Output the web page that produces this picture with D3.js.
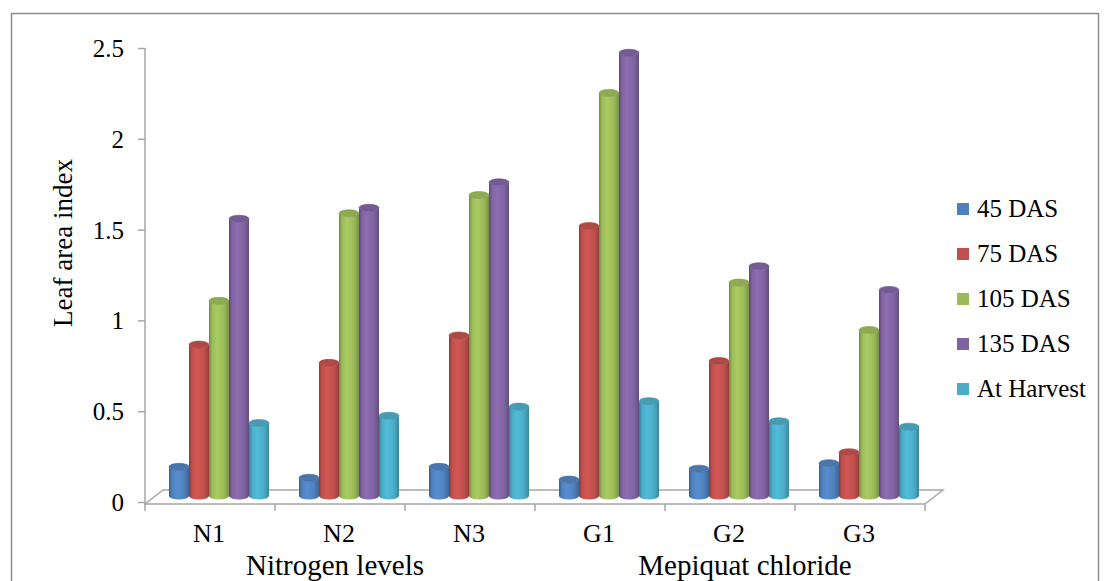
<!DOCTYPE html>
<html>
<head>
<meta charset="utf-8">
<script src="https://cdn.jsdelivr.net/npm/d3@7"></script>
<style>
  body { margin: 0; background: #fff; }
  svg text { font-family: "Liberation Serif", "Times New Roman", serif; fill: #000; }
</style>
</head>
<body>
<div class="layout"></div>
<script>
// chart data
var categories = ["N1", "N2", "N3", "G1", "G2", "G3"];
var series = ["45 DAS", "75 DAS", "105 DAS", "135 DAS", "At Harvest"];
var colors = ["#4F81BD", "#C0504D", "#9BBB59", "#8064A2", "#4BACC6"];
var values = [
  [0.16, 0.83, 1.07, 1.52, 0.40],  // N1
  [0.10, 0.73, 1.55, 1.58, 0.44],  // N2
  [0.16, 0.88, 1.65, 1.72, 0.49],  // N3
  [0.09, 1.48, 2.21, 2.43, 0.52],  // G1
  [0.15, 0.74, 1.17, 1.26, 0.41],  // G2
  [0.18, 0.24, 0.91, 1.13, 0.38]   // G3
];
var yTicks = [0, 0.5, 1, 1.5, 2, 2.5];
var groupLabels = ["Nitrogen levels", "Mepiquat chloride"];

var width = 1105, height = 581;
var depthX = 18, depthY = 14;

var svg = d3.select("div.layout")
  .append("svg")
  .attr("width", width)
  .attr("height", height);

// outer chart border
svg.append("rect")
  .attr("x", 11.5).attr("y", 13.5)
  .attr("width", 1087).attr("height", 600)
  .attr("fill", "none")
  .attr("stroke", "#8c8c8c")
  .attr("stroke-width", 1.5);

var x0 = d3.scaleBand().domain(categories).range([145, 925]);
var x1 = d3.scaleBand().domain(series).range([0, 100]);
var yAxisScale = d3.scaleLinear().domain([0, 2.5]).range([502, 48]);
var yBar = d3.scaleLinear().domain([0, 2.5]).range([496, 40]);

// gradients for the cylinders
var defs = svg.append("defs");
colors.forEach(function (c, i) {
  var g = defs.append("linearGradient")
    .attr("id", "grad" + i)
    .attr("x1", "0%").attr("x2", "100%").attr("y1", "0%").attr("y2", "0%");
  var base = d3.color(c);
  g.append("stop").attr("offset", "0%").attr("stop-color", base.darker(0.9));
  g.append("stop").attr("offset", "15%").attr("stop-color", base);
  g.append("stop").attr("offset", "40%").attr("stop-color", base.brighter(0.25));
  g.append("stop").attr("offset", "75%").attr("stop-color", base);
  g.append("stop").attr("offset", "100%").attr("stop-color", base.darker(0.7));
});

// floor
var fl = x0.range();
svg.append("path")
  .attr("d", "M" + fl[0] + "," + 504 + "L" + (fl[0] + depthX) + "," + (504 - depthY)
    + "L" + (fl[1] + depthX) + "," + (504 - depthY) + "L" + fl[1] + "," + 504)
  .attr("fill", "none")
  .attr("stroke", "#a6a6a6")
  .attr("stroke-width", 1.5);

// y axis
var yAxis = svg.append("g")
  .attr("transform", "translate(145,0)")
  .call(d3.axisLeft(yAxisScale).tickValues(yTicks).tickSize(7).tickSizeOuter(0)
    .tickFormat(function (d) { return d; }));
yAxis.attr("font-family", null).attr("font-size", null);
yAxis.select(".domain").attr("stroke", "#a6a6a6").attr("stroke-width", 1.5)
  .attr("d", "M0,48V505");
yAxis.selectAll(".tick line").attr("stroke", "#a6a6a6").attr("stroke-width", 1.5);
yAxis.selectAll(".tick text")
  .attr("x", -21)
  .attr("dy", "0.34em")
  .style("font-size", "25px");

// x axis front line and ticks
svg.append("line")
  .attr("x1", fl[0]).attr("x2", fl[1])
  .attr("y1", 504).attr("y2", 504)
  .attr("stroke", "#a6a6a6").attr("stroke-width", 1.5);

var tickPos = categories.map(function (c) { return x0(c); }).concat([fl[1]]);
svg.selectAll("line.xtick")
  .data(tickPos)
  .enter()
  .append("line")
  .attr("class", "xtick")
  .attr("x1", function (d) { return d; })
  .attr("x2", function (d) { return d; })
  .attr("y1", 504).attr("y2", 511)
  .attr("stroke", "#a6a6a6").attr("stroke-width", 1.5);

svg.selectAll("text.cat")
  .data(categories)
  .enter()
  .append("text")
  .attr("class", "cat")
  .attr("x", function (d) { return x0(d) + x0.bandwidth() / 2 - 1; })
  .attr("y", 542)
  .attr("text-anchor", "middle")
  .style("font-size", "26px")
  .text(function (d) { return d; });

svg.selectAll("text.grp")
  .data(groupLabels)
  .enter()
  .append("text")
  .attr("class", "grp")
  .attr("x", function (d, i) { return i === 0 ? 335 : 745; })
  .attr("y", 575)
  .attr("text-anchor", "middle")
  .style("font-size", "29px")
  .text(function (d) { return d; });

// y axis title
svg.append("text")
  .attr("transform", "translate(72,243) rotate(-90)")
  .attr("text-anchor", "middle")
  .style("font-size", "27px")
  .text("Leaf area index");

// cylinders
var rx = 10, ry = 3.5;
var groups = svg.selectAll("g.cat")
  .data(categories)
  .enter()
  .append("g")
  .attr("class", "cat")
  .attr("transform", function (d) {
    return "translate(" + (x0(d) + (x0.bandwidth() - 100) / 2 + depthX / 2) + ",0)";
  });

groups.each(function (c, ci) {
  var g = d3.select(this);
  var bars = g.selectAll("g.bar")
    .data(series.map(function (s, si) { return {s: s, si: si, v: values[ci][si]}; }))
    .enter()
    .append("g")
    .attr("class", "bar");

  bars.append("path")
    .attr("d", function (d) {
      var xl = x1(d.s), xr = xl + x1.bandwidth();
      var yt = yBar(d.v), yb = yBar(0);
      return "M" + xl + "," + yt + "L" + xl + "," + yb
        + "A" + rx + "," + ry + " 0 0 0 " + xr + "," + yb
        + "L" + xr + "," + yt
        + "A" + rx + "," + ry + " 0 0 1 " + xl + "," + yt + "Z";
    })
    .attr("fill", function (d) { return "url(#grad" + d.si + ")"; });

  bars.append("ellipse")
    .attr("cx", function (d) { return x1(d.s) + x1.bandwidth() / 2; })
    .attr("cy", function (d) { return yBar(d.v); })
    .attr("rx", rx)
    .attr("ry", ry)
    .attr("fill", function (d) { return d3.color(colors[d.si]).darker(0.25); })
    .attr("stroke", function (d) { return d3.color(colors[d.si]).darker(0.6); })
    .attr("stroke-width", 0.6);
});

// legend
var legend = svg.selectAll("g.legend")
  .data(series)
  .enter()
  .append("g")
  .attr("class", "legend")
  .attr("transform", function (d, i) { return "translate(957," + (203 + i * 45) + ")"; });

legend.append("rect")
  .attr("width", 12).attr("height", 12)
  .attr("fill", function (d, i) { return colors[i]; });

legend.append("text")
  .attr("x", 20)
  .attr("y", 14)
  .style("font-size", "25px")
  .text(function (d) { return d; });
</script>
</body>
</html>
